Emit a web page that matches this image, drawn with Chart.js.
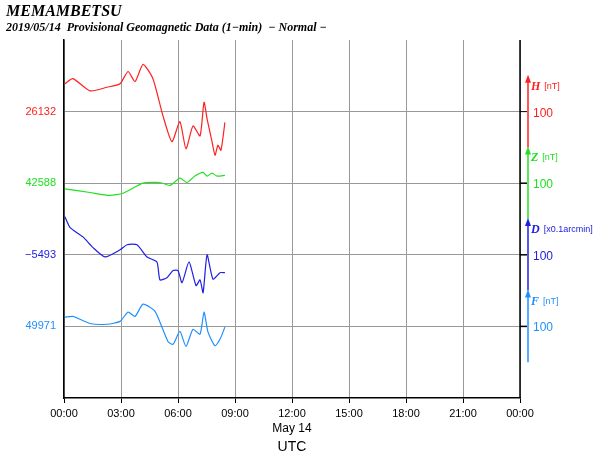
<!DOCTYPE html>
<html><head><meta charset="utf-8">
<script src="https://cdn.jsdelivr.net/npm/chart.js@4"></script>
<style>html,body{margin:0;padding:0;background:#fff}#w{width:600px;height:454px}</style>
</head><body><div id="w"><canvas id="c"></canvas></div>
<script>
const hTime=[0.05,0.47,1.37,2.26,2.95,3.37,3.74,4.16,4.68,5.21,5.68,6.1,6.42,6.79,7.16,7.37,7.53,7.79,7.95,8.1,8.26,8.47];
const hVal=[26171,26178,26161,26166,26171,26188,26174,26198,26178,26126,26090,26118,26080,26112,26098,26145,26122,26090,26071,26085,26078,26117];
const zTime=[0.05,1.37,2.42,3.1,4.16,5.05,5.58,6.1,6.47,6.89,7.32,7.53,7.79,8.05,8.47];
const zVal=[42580,42575,42571,42574,42588,42589,42585,42595,42589,42598,42603,42598,42602,42598,42599];
const dTime=[0.05,0.32,1,1.53,2.16,2.95,3.32,3.84,4.37,4.89,5.05,5.42,5.74,6,6.21,6.58,6.95,7.16,7.32,7.53,7.84,8.21,8.47];
const dVal=[-5440,-5455,-5468,-5483,-5496,-5486,-5479,-5479,-5496,-5503,-5528,-5525,-5515,-5515,-5532,-5503,-5536,-5528,-5546,-5493,-5527,-5518,-5518];
const fTime=[0.05,0.47,1.37,2.26,2.95,3.37,3.74,4.16,4.79,5.47,5.74,6.1,6.42,6.79,7.16,7.37,7.58,7.95,8.21,8.47];
const fVal=[49984,49985,49975,49974,49978,49991,49985,50002,49992,49950,49946,49964,49943,49967,49960,49991,49963,49944,49953,49970];
const names=['H','Z','D','F'];
const units=['[nT]','[nT]','[x0.1arcmin]','[nT]'];
const bases=[26132,42588,-5493,49971];
const offsets=[400,300,200,100];
const colors=['#ff2020','#20e020','#2020e0','#2090ff'];
const xTicks=['00:00','03:00','06:00','09:00','12:00','15:00','18:00','21:00','00:00'];
const series=[[hTime,hVal],[zTime,zVal],[dTime,dVal],[fTime,fVal]];
const datasets=series.map((s,i)=>({data:s[0].map((t,k)=>({x:t,y:offsets[i]+(s[1][k]-bases[i])})),borderColor:colors[i],borderWidth:1.2,pointRadius:0,tension:0.2,fill:false}));
const deco={id:'deco',afterDraw(ch){
 const c=ch.ctx,a=ch.chartArea,y=ch.scales.y;
 c.save();
 c.fillStyle='#000';c.textBaseline='alphabetic';
 c.font='bold italic 16px "Liberation Serif"';c.fillText('MEMAMBETSU',6,16);
 c.font='bold italic 12px "Liberation Serif"';c.fillText('2019/05/14  Provisional Geomagnetic Data (1\u2212min)  \u2212 Normal \u2212',6,31);
 c.font='12px "Liberation Sans"';c.textAlign='center';
 c.fillText('May 14',292,432);c.font='14px "Liberation Sans"';c.fillText('UTC',292,451);
 c.strokeStyle='#000';c.lineWidth=1.5;c.beginPath();c.moveTo(a.right,a.top);c.lineTo(a.right,a.bottom);c.stroke();
 c.lineWidth=1;
 for(let i=0;i<4;i++){
  const gy=y.getPixelForValue(offsets[i]);
  c.strokeStyle='#000';c.beginPath();c.moveTo(a.right,gy);c.lineTo(a.right+7,gy);c.stroke();
  const y0=y.getPixelForValue(offsets[i]-50),y1=y.getPixelForValue(offsets[i]+50);
  c.strokeStyle=colors[i];c.fillStyle=colors[i];c.lineWidth=1.5;
  c.beginPath();c.moveTo(528,y0);c.lineTo(528,y1+2);c.stroke();
  c.beginPath();c.moveTo(528,y1-1);c.lineTo(525,y1+7);c.lineTo(531,y1+7);c.closePath();c.fill();
  c.textAlign='left';c.font='12px "Liberation Sans"';c.fillText('100',533,gy+5);
  c.font='bold italic 12px "Liberation Serif"';c.fillText(names[i],531,y1+14);
  const w=c.measureText(names[i]).width;
  c.font='9px "Liberation Sans"';c.fillText(units[i],531+w+4,y1+13);
 }
 c.restore();
}};
new Chart(document.getElementById('c'),{type:'line',data:{datasets},plugins:[deco],
options:{responsive:true,maintainAspectRatio:false,animation:false,
 layout:{padding:{left:0,right:80,top:40,bottom:0}},
 plugins:{legend:{display:false},tooltip:{enabled:false}},
 scales:{
  x:{type:'linear',min:0,max:24,afterFit:s=>{s.height=56},
   afterBuildTicks:s=>{s.ticks=xTicks.map((_,i)=>({value:i*3}))},
   ticks:{autoSkip:false,maxRotation:0,color:'#000',font:{family:'Liberation Sans',size:11},padding:4,callback:(v,i)=>xTicks[i]},
   grid:{color:'#999',lineWidth:1,drawTicks:true,tickLength:5,tickColor:'#000'},border:{color:'#000',width:1.5}},
  y:{min:0,max:500,afterFit:s=>{s.width=64},
   afterBuildTicks:s=>{s.ticks=[0,100,200,300,400,500].map(v=>({value:v}))},
   ticks:{autoSkip:false,padding:3,font:{family:'Liberation Sans',size:11},
    color:c=>{const k=offsets.indexOf(c.tick.value);return k>=0?colors[k]:'#000'},
    callback:v=>{const k=offsets.indexOf(v);return k>=0?String(bases[k]).replace('-','\u2212'):''}},
   grid:{color:c=>(c.tick.value===0||c.tick.value===500)?'rgba(0,0,0,0)':'#999',tickLength:5,tickColor:'rgba(0,0,0,0)'},border:{color:'#000',width:1.5}}
 }}});
</script></body></html>
